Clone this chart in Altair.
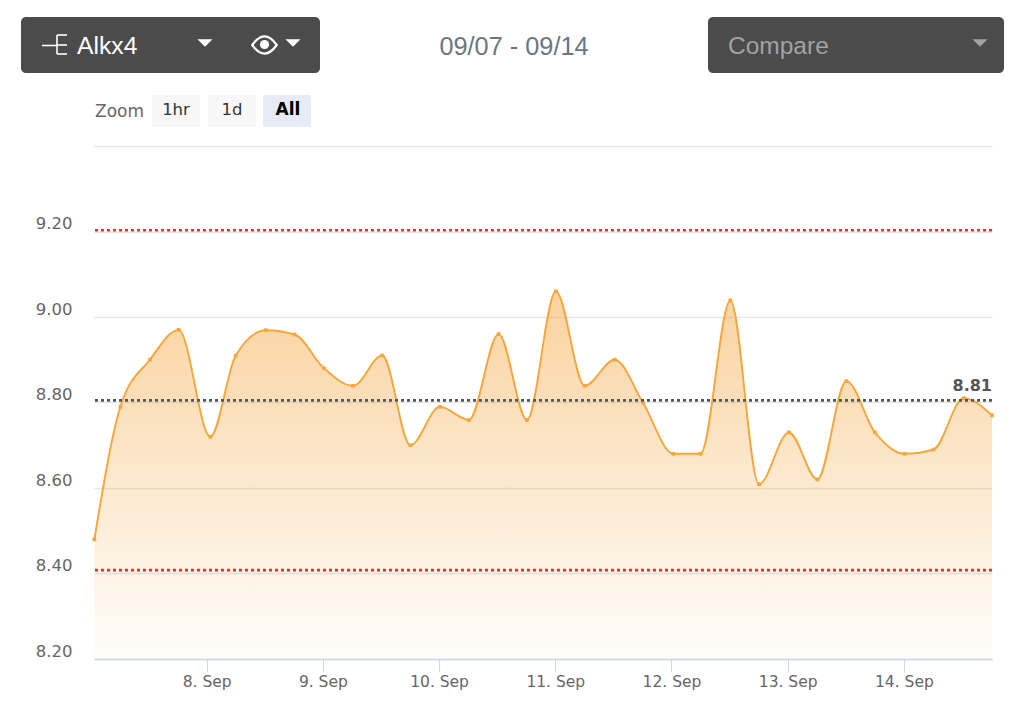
import altair as alt
import pandas as pd

times = ["09-07T00:49","09-07T06:11","09-07T12:17","09-07T18:13","09-08T00:46","09-08T06:00","09-08T12:15","09-08T18:11",
         "09-09T00:14","09-09T06:13","09-09T12:17","09-09T18:04","09-10T00:11","09-10T06:10","09-10T12:18","09-10T18:09",
         "09-11T00:08","09-11T06:04","09-11T12:16","09-11T18:06","09-12T00:24","09-12T06:00","09-12T12:10","09-12T18:04",
         "09-13T00:16","09-13T06:08","09-13T12:07","09-13T18:02","09-14T00:10","09-14T06:09","09-14T12:21","09-14T18:12"]
values = [8.480,8.790,8.900,8.970,8.720,8.910,8.969,8.959,8.880,8.839,8.910,8.700,8.790,8.759,8.960,8.759,
          9.060,8.839,8.900,8.800,8.680,8.680,9.039,8.609,8.730,8.620,8.850,8.730,8.680,8.690,8.810,8.770]
limits = [9.203, 8.408]
current = 8.805
current_label = "8.81"
y_ticks = [8.2, 8.4, 8.6, 8.8, 9.0, 9.2, 9.4]
x_start, x_end = "2020-09-07T00:44", "2020-09-14T18:12"

PW, PH = 898, 513
L, T = 94, 146
df = pd.DataFrame({"t": ["2020-" + s for s in times], "v": values})
one = alt.Data(values=[{}])
LINE = "#f5a63c"

x = alt.X("t:T", scale=alt.Scale(domain=[x_start, x_end]), title=None,
          axis=alt.Axis(format="%-d. %b", tickCount={"interval": "day", "step": 1}, grid=False,
                        domainColor="#ccd6eb", domainWidth=1.5, tickColor="#ccd6eb", tickSize=13,
                        labelColor="#666666", labelFont="DejaVu Sans", labelFontSize=15.5, labelPadding=2,
                        labelFlush=False))
y = alt.Y("v:Q", scale=alt.Scale(domain=[8.2, 9.4], zero=False, nice=False), title=None,
          axis=alt.Axis(values=y_ticks, labelExpr="datum.value > 9.3 ? '' : format(datum.value, '.2f')",
                        gridColor="#e6e6e6", gridWidth=1.3, domain=False, ticks=False,
                        labelColor="#666666", labelFont="DejaVu Sans", labelFontSize=16.5, labelPadding=22,
                        labelOffset=-8))

area = alt.Chart(df).mark_area(
    interpolate="monotone",
    color=alt.Gradient(gradient="linear", x1=0, x2=0, y1=0, y2=1,
                       stops=[alt.GradientStop(color="rgba(243,160,50,0.47)", offset=0),
                              alt.GradientStop(color="rgba(243,160,50,0.02)", offset=1)]),
).encode(x=x, y=y, y2=alt.Y2(datum=8.2))
line = alt.Chart(df).mark_line(interpolate="monotone", color=LINE, strokeWidth=1.9).encode(x=x, y=y)
pts = alt.Chart(df).mark_point(filled=True, color=LINE, size=14, opacity=1, shape="square").encode(x=x, y=y)

lim = alt.Chart(pd.DataFrame({"v": limits})).mark_rule(color="#f02c25", strokeWidth=2.6, strokeDash=[3, 3]).encode(
    y=alt.Y("v:Q"))
cur = alt.Chart(pd.DataFrame({"v": [current]})).mark_rule(color="#555555", strokeWidth=2.6, strokeDash=[3, 3]).encode(
    y=alt.Y("v:Q"))
cur_txt = alt.Chart(one).mark_text(text=current_label, align="right", baseline="middle", font="DejaVu Sans",
                                   fontSize=16, fontWeight="bold", color="#555555").encode(
    x=alt.value(PW), y=alt.value(386 - T))


def box(x0, x1, y0, y1, fill, r=5):
    return alt.Chart(one).mark_rect(color=fill, cornerRadius=r, opacity=1).encode(
        x=alt.value(x0 - L), x2=alt.value(x1 - L), y=alt.value(y0 - T), y2=alt.value(y1 - T))


def label(px, py, s, color, size, font="Liberation Sans", align="left", weight="normal"):
    return alt.Chart(one).mark_text(text=s, color=color, fontSize=size, font=font, align=align,
                                    baseline="middle", fontWeight=weight).encode(
        x=alt.value(px - L), y=alt.value(py - T))


def stroke(x0, x1, y0, y1, color="#ffffff", w=1.6):
    return alt.Chart(one).mark_rule(color=color, strokeWidth=w).encode(
        x=alt.value(x0 - L), x2=alt.value(x1 - L), y=alt.value(y0 - T), y2=alt.value(y1 - T))


def caret(px, py, color="#ffffff", size=225):
    return alt.Chart(one).mark_point(shape="M-1,-0.5L1,-0.5L0,0.5Z", filled=True, color=color, size=size, opacity=1).encode(
        x=alt.value(px - L), y=alt.value(py - T))


eye = alt.Chart(one).mark_point(shape="M-1,0Q0,-1.4 1,0Q0,1.4 -1,0Z", filled=False, color="#ffffff", size=600,
                                strokeWidth=2.2, opacity=1).encode(x=alt.value(264.5 - L), y=alt.value(45 - T))
pupil = alt.Chart(one).mark_point(shape="circle", filled=True, color="#ffffff", size=85, opacity=1).encode(
    x=alt.value(264.5 - L), y=alt.value(44.5 - T))

header = [
    box(21, 320, 17, 73, "#4a4b4a"),
    box(708, 1004, 17, 73, "#4a4b4a"),
    stroke(42, 58, 45.5, 45.5),
    stroke(57, 57, 35, 54),
    stroke(57, 67, 35, 35),
    stroke(57, 67, 45, 45),
    stroke(57, 67, 54, 54),
    label(77, 46.5, "Alkx4", "#ffffff", 24.7),
    caret(205, 43),
    eye, pupil,
    caret(293, 43),
    label(514, 46.5, "09/07 - 09/14", "#6b7680", 25.3, align="center"),
    label(728, 46.5, "Compare", "#a3a3a3", 24.5),
    caret(980, 43, "#a3a3a3"),
    label(95, 112, "Zoom", "#666666", 17, font="DejaVu Sans"),
    box(152, 200, 95, 127, "#f7f7f7", 2),
    box(208, 256, 95, 127, "#f7f7f7", 2),
    box(263, 311, 95, 127, "#e6ebf5", 2),
    label(176, 110, "1hr", "#333333", 16.5, font="DejaVu Sans", align="center"),
    label(232, 110, "1d", "#333333", 16.5, font="DejaVu Sans", align="center"),
    label(288, 110, "All", "#000000", 17, font="DejaVu Sans", align="center", weight="bold"),
]

chart = alt.layer(area, line, pts, lim, cur, cur_txt, *header).properties(
    width=PW, height=PH, background="#ffffff",
    padding={"left": L - 8, "top": T - 8, "right": 12, "bottom": 48},
    autosize=alt.AutoSizeParams(type="none"),
).configure_view(stroke=None)

chart.save("out.html", embed_options={"renderer": "svg", "actions": False})
